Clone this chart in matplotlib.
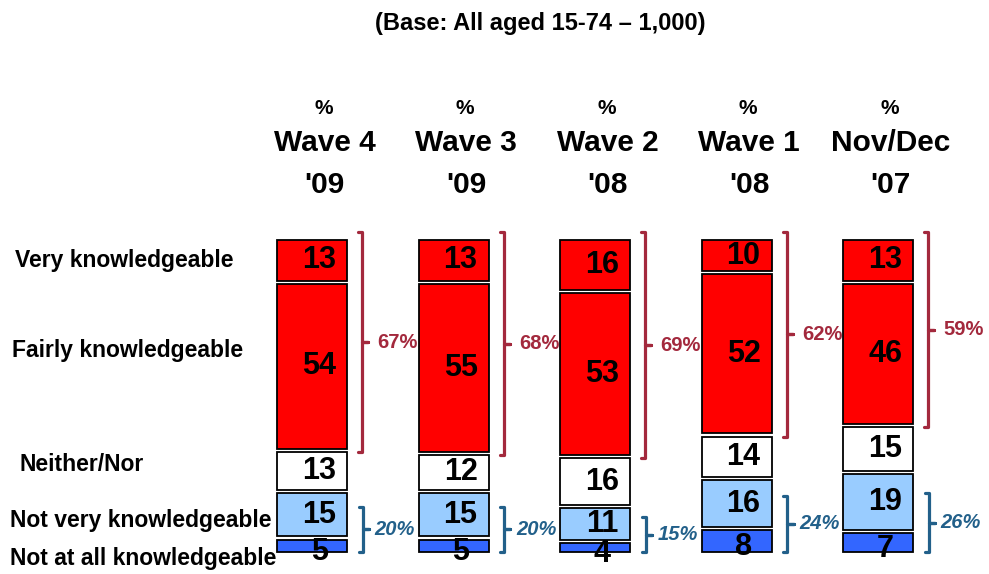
import matplotlib.pyplot as plt
from matplotlib.lines import Line2D

# ---- data -------------------------------------------------------------
waves = ["Wave 4", "Wave 3", "Wave 2", "Wave 1", "Nov/Dec"]
years = ["'09", "'09", "'08", "'08", "'07"]
levels = ["Not at all knowledgeable", "Not very knowledgeable", "Neither/Nor",
          "Fairly knowledgeable", "Very knowledgeable"]
not_at_all = [5, 5, 4, 8, 7]
not_very = [15, 15, 11, 16, 19]
neither = [13, 12, 16, 14, 15]
fairly = [54, 55, 53, 52, 46]
very = [13, 13, 16, 10, 13]
knowledgeable_net = [67, 68, 69, 62, 59]
not_knowledgeable_net = [20, 20, 15, 24, 26]

series = [not_at_all, not_very, neither, fairly, very]
colors = ["#3366FF", "#99CCFF", "#FFFFFF", "#FF0000", "#FF0000"]

RED_BR = "#A3293D"
BLUE_BR = "#22608A"
FONT = ["Liberation Sans", "DejaVu Sans"]
plt.rcParams["font.family"] = FONT

# ---- figure: one axes spanning the canvas, bars on a 0-100 scale ------
fig = plt.figure(figsize=(9.89, 5.74), dpi=100)
ax = fig.add_axes([0, 0, 1, 1])
ax.set_xlim(-2.205, 4.784)
ax.set_ylim(-7.05, 176.9)
ax.axis("off")

width = 0.495
gap = 1.0
xs = list(range(len(waves)))

for i in xs:
    cum = 0
    for k, (vals, col) in enumerate(zip(series, colors)):
        v = vals[i]
        h = v if k == len(series) - 1 else v - gap
        ax.bar(i, h, width=width, bottom=cum, color=col,
               edgecolor="black", linewidth=1.3, zorder=2)
        yc = cum + h / 2
        if k == 0:
            yc -= 2
        ax.text(i + 0.05, yc, f"{v}", ha="center", va="center",
                fontsize=22, fontweight="bold", color="black", zorder=3)
        cum += v


def bracket(x, y0, y1, color, hook=0.028, tick=0.045, lw=2.3):
    ym = (y0 + y1) / 2
    line = Line2D([x - hook, x, x, x + tick, x, x, x - hook],
                  [y1, y1, ym, ym, ym, y0, y0],
                  color=color, lw=lw, solid_joinstyle="round",
                  solid_capstyle="round", zorder=2)
    ax.add_line(line)
    return ym


for i in xs:
    right = i + width / 2
    # knowledgeable (very + fairly)
    top = 102.5
    bot = not_at_all[i] + not_very[i] + neither[i] - 1
    ym = bracket(right + 0.106, bot, top, RED_BR)
    ax.text(right + 0.215, ym, f"{knowledgeable_net[i]}%", ha="left",
            va="center", fontsize=14.5, fontweight="bold", color=RED_BR)
    # not knowledgeable (not very + not at all)
    top_b = not_at_all[i] + 0.6 * not_very[i] + 0.5
    ym = bracket(right + 0.11, 0, top_b, BLUE_BR)
    ax.text(right + 0.195, ym, f"{not_knowledgeable_net[i]}%", ha="left",
            va="center", fontsize=14.5, fontweight="bold", style="italic",
            color=BLUE_BR)

# column headers
for i in xs:
    ax.text(i + 0.08, 142, "%", ha="center", va="center", fontsize=15,
            fontweight="bold")
    ax.text(i + 0.09, 131, waves[i], ha="center", va="center", fontsize=21.5,
            fontweight="bold")
    ax.text(i + 0.09, 117.5, years[i], ha="center", va="center", fontsize=21.5,
            fontweight="bold")

# row labels
row_pos = {
    "Very knowledgeable": (-2.099, 93.5),
    "Fairly knowledgeable": (-2.120, 64.5),
    "Neither/Nor": (-2.064, 28),
    "Not very knowledgeable": (-2.134, 10),
    "Not at all knowledgeable": (-2.134, -2),
}
for name in levels:
    x, y = row_pos[name]
    ax.text(x, y, name, ha="left", va="center", fontsize=16.5,
            fontweight="bold")

ax.text(1.61, 169.5, "(Base: All aged 15-74 \u2013 1,000)", ha="center",
        va="center", fontsize=17, fontweight="bold")

fig.savefig("out.png", dpi=100)
